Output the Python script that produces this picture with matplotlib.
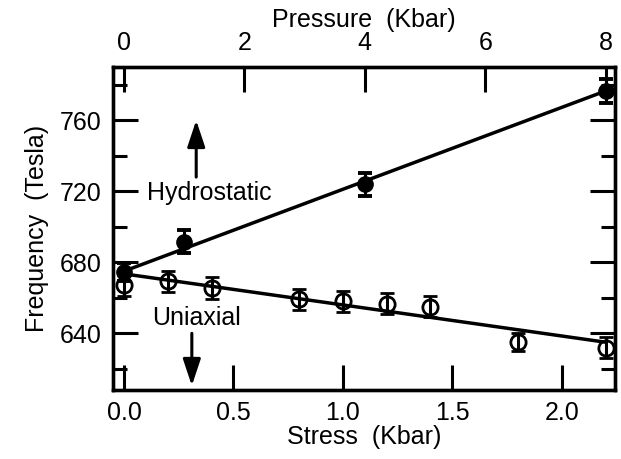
import numpy as np
import matplotlib
matplotlib.use("Agg")
import matplotlib.pyplot as plt

plt.rcParams["font.family"] = ["Liberation Sans", "DejaVu Sans"]
plt.rcParams["font.size"] = 18

# hydrostatic: frequency vs pressure (top axis)
hyd_p = [0, 1, 4, 8]
hyd_f = [674.5, 691.5, 724, 776.5]
hyd_err = [5, 6.5, 6.5, 6.5]
hyd_fit = [675, 776.5]  # fit line at p = 0 and p = 8

# uniaxial: frequency vs stress (bottom axis)
uni_s = [0.0, 0.2, 0.4, 0.8, 1.0, 1.2, 1.4, 1.8, 2.2]
uni_f = [667, 669.3, 665.5, 659.2, 658, 656.7, 655, 635, 632]
uni_err = [6, 6, 6, 6, 6, 6, 6, 5, 6]
uni_fit = [673.5, 635]  # fit line at s = 0 and s = 2.2

smax = 2.2
pmax = 8.0
conv = pmax / smax

fig = plt.figure(figsize=(6.21, 4.59), dpi=100)
ax = fig.add_axes([0.182, 0.150, 0.808, 0.704])
xlim = (-0.05, 2.242)
ylim = (608, 790)
ax.set_xlim(xlim)
ax.set_ylim(ylim)

ax2 = ax.twiny()
ax2.set_xlim(xlim[0] * conv, xlim[1] * conv)

lw = 2.4
for a in (ax, ax2):
    for sp in a.spines.values():
        sp.set_linewidth(lw)

# uniaxial (open circles, bars visible through them)
ax.plot([0, smax], uni_fit, color="black", lw=2.5, zorder=2)
ax.errorbar(uni_s, uni_f, yerr=uni_err, fmt="o", ms=11, mfc="none",
            mec="black", mew=2, ecolor="black", elinewidth=2.2,
            capsize=5, capthick=2.8, zorder=3)

# hydrostatic
ax2.plot([0, pmax], hyd_fit, color="black", lw=2.5, zorder=2)
ax2.errorbar(hyd_p, hyd_f, yerr=hyd_err, fmt="o", ms=11, mfc="black",
             mec="black", ecolor="black", elinewidth=2.2,
             capsize=5, capthick=2.8, zorder=3)

# ticks
ax.set_xticks([0.0, 0.5, 1.0, 1.5, 2.0])
ax.set_xticklabels(["0.0", "0.5", "1.0", "1.5", "2.0"])
ax.set_yticks([640, 680, 720, 760])
ax.set_yticks([620, 660, 700, 740, 780], minor=True)
ax.tick_params(axis="x", which="both", direction="in", top=False,
               length=18, width=2.2, pad=8)
ax.tick_params(axis="y", which="major", direction="in", right=True,
               length=18, width=2.2, pad=8)
ax.tick_params(axis="y", which="minor", direction="in", right=True,
               length=10, width=2.2)
ax2.set_xticks([0, 2, 4, 6, 8])
ax2.tick_params(axis="x", direction="in", length=18, width=2.2, pad=9)

ax.set_xlabel("Stress  (Kbar)", labelpad=0)
ax.set_ylabel("Frequency  (Tesla)", labelpad=8)
ax2.set_xlabel("Pressure  (Kbar)")
ax2.xaxis.set_label_coords(0.5, 1.125)

# annotations
ax.text(0.39, 719, "Hydrostatic", ha="center", va="center", fontsize=18)
ax.annotate("", xy=(0.33, 760), xytext=(0.33, 728),
            arrowprops=dict(arrowstyle="-|>,head_length=0.9,head_width=0.3",
                            color="black", lw=2.2, shrinkA=0, shrinkB=0))
ax.text(0.33, 648.5, "Uniaxial", ha="center", va="center", fontsize=18)
ax.annotate("", xy=(0.31, 610.5), xytext=(0.31, 640),
            arrowprops=dict(arrowstyle="-|>,head_length=0.9,head_width=0.3",
                            color="black", lw=2.2, shrinkA=0, shrinkB=0))

fig.savefig("out.png", dpi=100)
